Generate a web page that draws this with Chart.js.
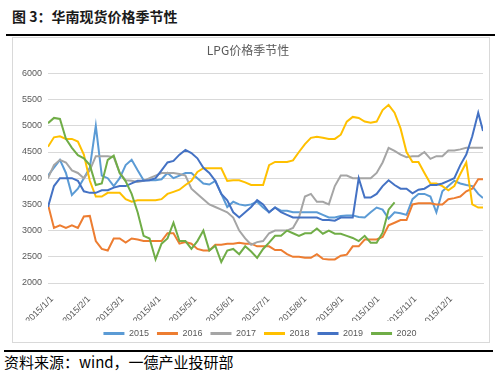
<!DOCTYPE html>
<html><head><meta charset="utf-8">
<script src="https://cdn.jsdelivr.net/npm/chart.js@4/dist/chart.umd.min.js"></script>
<style>
html,body{margin:0;padding:0;background:#fff;width:501px;height:376px;overflow:hidden;}
#title{position:absolute;left:12px;top:6px;font:bold 14px "Noto Sans CJK SC",sans-serif;line-height:20px;color:#1a1a1a;white-space:nowrap;}
#rule1{position:absolute;left:6px;top:34px;width:489px;height:2px;background:#000;}
#box{position:absolute;left:12px;top:37px;width:476px;height:304px;border:1px solid #D9D9D9;}
#c{position:absolute;left:13px;top:38px;}
#rule2{position:absolute;left:4px;top:350px;width:489px;height:2px;background:#000;}
#src{position:absolute;left:4px;top:353px;font:15px "Noto Sans CJK SC",sans-serif;line-height:18px;color:#000;white-space:nowrap;}
</style></head>
<body>
<div id="title">图 3：华南现货价格季节性</div>
<div id="rule1"></div>
<div id="box"></div>
<canvas id="c" width="476" height="310"></canvas>
<div id="rule2"></div>
<div id="src">资料来源：wind，一德产业投研部</div>
<script>
// day-of-year positions (0 = Jan 1)
const days = [0,5,10,15,20,25,30,35,40,45,50,55,60,65,70,75,80,85,90,95,100,105,110,115,120,125,130,135,140,145,150,155,160,165,170,175,180,185,190,195,200,205,210,215,220,225,230,235,240,245,250,255,260,265,270,275,280,285,290,295,300,305,310,315,320,325,330,335,340,345,350,355,360,364];
const seriesNames = ['2015','2016','2017','2018','2019','2020'];
const s2015 = [4050,4200,4350,4100,3680,3800,4000,4200,5000,4050,4000,3850,4000,4250,4350,4150,3960,3960,3960,3980,4100,4000,4050,4100,4100,4000,3900,3880,3950,3700,3450,3550,3500,3480,3500,3550,3440,3350,3440,3380,3380,3350,3350,3350,3350,3350,3300,3250,3250,3280,3290,3290,3260,3250,3350,3440,3400,3230,3350,3330,3300,3600,3700,3700,3650,3350,3750,3850,3950,3900,3870,3850,3700,3620];
const s2016 = [3500,3050,3100,3050,3100,3050,3270,3280,2800,2650,2620,2850,2850,2770,2850,2830,2800,2800,2800,2800,2950,2950,2750,2780,2750,2650,2620,2620,2730,2730,2750,2750,2770,2750,2750,2700,2700,2700,2630,2630,2550,2500,2500,2480,2480,2550,2460,2450,2450,2520,2540,2700,2700,2830,2830,2830,2880,3100,3150,3200,3200,3500,3520,3520,3520,3500,3500,3600,3620,3650,3750,3800,3980,3980];
const s2017 = [4000,4250,4350,4300,4150,4100,4000,4150,4420,4420,4420,4400,4100,3960,3950,3930,3950,4000,4050,4100,4100,4100,4080,4050,3800,3700,3600,3500,3450,3400,3350,3250,3000,2850,2730,2780,2800,2950,3000,3000,3000,3050,3250,3650,3700,3550,3550,3500,3850,4050,4050,4000,4000,4000,4000,4100,4300,4580,4520,4450,4400,4420,4420,4500,4370,4420,4420,4530,4530,4550,4580,4580,4580,4580];
const s2018 = [4600,4780,4800,4750,4750,4700,4450,3950,3650,3650,3720,3720,3720,3600,3550,3580,3580,3580,3580,3600,3700,3740,3780,3870,3950,4120,4190,4190,4190,4190,3950,3960,3960,3920,3870,3870,3870,4250,4310,4310,4310,4340,4500,4650,4770,4790,4770,4750,4750,4830,5080,5170,5150,5080,5060,5080,5300,5400,5250,4950,4500,4310,4310,4100,3900,3900,3850,3770,3850,4080,4300,3500,3440,3440];
const s2019 = [3450,3850,4000,4000,4000,3950,3750,3720,3720,3770,3770,3820,3850,3850,3900,3950,3950,3960,4000,4150,4300,4330,4450,4540,4480,4380,4200,4100,3950,3700,3580,3350,3250,3350,3450,3580,3500,3350,3440,3350,3300,3250,3250,3250,3250,3250,3200,3200,3190,3250,3250,3250,4000,3630,3630,3700,3850,3960,3870,3800,3800,3710,3780,3800,3870,3870,3900,3950,4000,4250,4450,4800,5250,4900];
const s2020 = [5050,5150,5130,4750,4580,4440,4380,4250,3870,3900,4350,4430,4100,3940,3700,3350,2900,2850,2450,2750,2850,3150,2800,2800,2650,2800,3000,2620,2710,2400,2620,2650,2550,2700,2600,2480,2650,2770,2900,2900,3000,2950,2900,2950,2950,3040,2940,3000,2940,2940,2900,2860,2800,2900,2770,2770,2960,3400,3540,null,null,null,null,null,null,null,null,null,null,null,null,null,null,null];
const monthTicks = [0,31,59,90,120,151,181,212,243,273,304,334];
const tickLabels = ['2015/1/1','2015/2/1','2015/3/1','2015/4/1','2015/5/1','2015/6/1','2015/7/1','2015/8/1','2015/9/1','2015/10/1','2015/11/1','2015/12/1'];
const colors = ['#5B9BD5','#ED7D31','#A5A5A5','#FFC000','#4472C4','#70AD47'];
const allSeries = [s2015,s2016,s2017,s2018,s2019,s2020];

const datasets = allSeries.map((s,i)=>({
  label: seriesNames[i],
  data: days.map((d,j)=>({x:d,y:s[j]})),
  borderColor: colors[i],
  backgroundColor: colors[i],
  borderWidth: 2,
  pointRadius: 0,
  tension: 0,
  spanGaps: false,
  order: 6 - i
}));

const shiftLegend = {
  id:'shiftLegend',
  afterLayout(chart){ const lg = chart.legend; if(lg){ lg.left += 12; lg.right += 12; } }
};

const tickFont = {family:'"Liberation Sans", Arial, sans-serif', size:9};
new Chart(document.getElementById('c'), {
  type: 'line',
  data: {datasets},
  plugins:[shiftLegend],
  options: {
    responsive:false, animation:false,
    layout:{padding:{left:0,right:6,top:0,bottom:0}},
    plugins:{
      title:{display:true,text:'LPG价格季节性',color:'#595959',
        font:{family:'"Noto Sans CJK SC", sans-serif',size:12,weight:'normal'},
        padding:{top:5,bottom:16}},
      legend:{position:'bottom',
        labels:{boxWidth:21,boxHeight:3,padding:8,color:'#595959',font:tickFont,
          sort:(a,b)=>a.datasetIndex-b.datasetIndex,
          generateLabels:(chart)=>Chart.defaults.plugins.legend.labels.generateLabels(chart).map(l=>Object.assign(l,{lineWidth:0}))}},
      tooltip:{enabled:false}
    },
    scales:{
      x:{type:'linear',min:0,max:364,
        afterBuildTicks:(sc)=>{sc.ticks = monthTicks.map(v=>({value:v}));},
        afterFit:(sc)=>{sc.height=38;},
        ticks:{autoSkip:false,minRotation:45,maxRotation:45,color:'#595959',font:tickFont,padding:3,labelOffset:4,
          callback:(v,i)=>tickLabels[i]},
        grid:{display:false},border:{display:true,color:'#D9D9D9'}},
      y:{min:2000,max:6000,
        afterFit:(sc)=>{sc.width=35;},
        ticks:{stepSize:500,color:'#595959',font:tickFont,padding:6,callback:(v)=>String(v)},
        grid:{color:'#D9D9D9',drawTicks:false},border:{display:false}}
    }
  }
});
</script>
</body></html>
